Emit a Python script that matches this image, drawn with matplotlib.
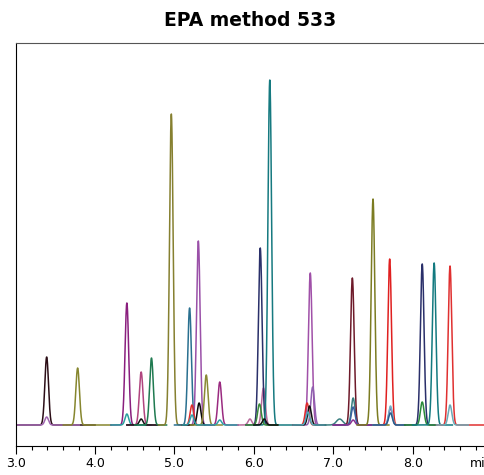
import numpy as np
from matplotlib import pyplot as plt
from matplotlib.ticker import MultipleLocator

# traces: colour and time window (min) of each channel
trace_color = ['#2b0d16', '#a066b0', '#86862e', '#8a1f7e', '#2aa0a0', '#b0457f',
               '#111111', '#1f7a50', '#868030', '#2a7090', '#9a50a8', '#e02a2a',
               '#0a0a0a', '#8a8a35', '#9a2a80', '#30a0a8', '#b86a9a', '#2a306a',
               '#167a80', '#3a8a3a', '#111111', '#a050a8', '#9060b0', '#e02a2a',
               '#111111', '#50a8b8', '#3a7f80', '#6e1a2a', '#3a60a0', '#8a3090',
               '#7c7c22', '#e02020', '#70b0c8', '#2a5a8a', '#2a2f6a', '#2a8a3a',
               '#137a80', '#e03030', '#6aaab8']
trace_start = [3.0, 3.0, 3.6, 4.2, 4.2, 4.4, 4.4, 4.5, 4.8, 5.0, 5.1, 5.1,
               5.1, 5.2, 5.4, 5.1, 5.8, 5.9, 6.0, 5.9, 6.0, 6.5, 6.5, 6.5,
               6.5, 6.5, 6.9, 7.0, 7.0, 7.0, 7.3, 7.5, 7.5, 7.5, 7.9, 7.9,
               8.0, 8.3, 8.3]
trace_end = [4.0, 3.8, 4.2, 4.7, 4.7, 4.8, 4.8, 4.9, 5.2, 5.4, 5.5, 5.4,
             5.5, 5.6, 5.8, 5.8, 6.3, 6.3, 6.5, 6.3, 6.3, 6.9, 6.9, 6.9,
             6.9, 6.9, 7.4, 7.5, 7.5, 7.9, 7.7, 7.9, 7.9, 7.9, 8.3, 8.3,
             8.5, 8.9, 8.7]

# peaks: retention time (min), height, trace index, width
peak_rt = [3.39, 3.39, 3.78, 4.40, 4.40, 4.58, 4.58, 4.71, 4.96, 5.19, 5.30,
           5.22, 5.31, 5.40, 5.57, 5.22, 5.57, 5.95, 6.12, 6.08, 6.20, 6.07,
           6.13, 6.71, 6.74, 6.67, 6.70, 6.68, 7.08, 7.25, 7.24, 7.25, 7.25,
           7.72, 7.50, 7.71, 7.72, 7.72, 8.12, 8.12, 8.27, 8.47, 8.47]
peak_height = [68, 8, 57, 122, 11, 53, 6, 67, 311, 117, 184,
               20, 22, 50, 43, 10, 5, 6, 37, 177, 345, 21,
               6, 152, 38, 22, 19, 13, 6, 27, 147, 18, 5,
               17, 226, 166, 19, 12, 161, 23, 162, 159, 20]
peak_trace = [0, 1, 2, 3, 4, 5, 6, 7, 8, 9, 10,
              11, 12, 13, 14, 15, 15, 16, 16, 17, 18, 19,
              20, 21, 22, 23, 24, 25, 26, 26, 27, 28, 29,
              29, 30, 31, 32, 33, 34, 35, 36, 37, 38]
peak_sigma = [0.023] * len(peak_rt)
peak_sigma[28] = 0.04

fig = plt.figure(figsize=(4.85, 4.75), dpi=100)
ax = fig.add_axes([15.7 / 485, 29 / 475, 476.4 / 485, 403 / 475])

for i, c in enumerate(trace_color):
    t = np.linspace(trace_start[i], trace_end[i], 600)
    y = np.zeros_like(t)
    for rt, h, tr, s in zip(peak_rt, peak_height, peak_trace, peak_sigma):
        if tr == i:
            y += h * np.exp(-0.5 * ((t - rt) / s) ** 2)
    ax.plot(t, y, color=c, linewidth=1.1)

ax.set_xlim(3.0, 9.0)
ax.set_ylim(-21, 382)
ax.xaxis.set_major_locator(MultipleLocator(1.0))
ax.xaxis.set_minor_locator(MultipleLocator(0.2))
ax.set_xticklabels([])
ax.set_yticks([])
ax.tick_params(axis='x', which='major', length=6, width=0.8)
ax.tick_params(axis='x', which='minor', length=3, width=0.8)
for t in [3.0, 4.0, 5.0, 6.0, 7.0, 8.0]:
    ax.text(t, -0.043, '%.1f' % t, transform=ax.get_xaxis_transform(),
            ha='center', va='center', fontsize=9)
ax.text(8.72, -0.043, 'min', transform=ax.get_xaxis_transform(),
        ha='left', va='center', fontsize=9)
for s in ax.spines.values():
    s.set_linewidth(0.8)
ax.spines['top'].set_color('#555555')

fig.text(250 / 485, 1 - 20 / 475, 'EPA method 533', ha='center', va='center',
         fontsize=13.5, fontweight='bold')
plt.savefig('out.png', dpi=100)
plt.close()
